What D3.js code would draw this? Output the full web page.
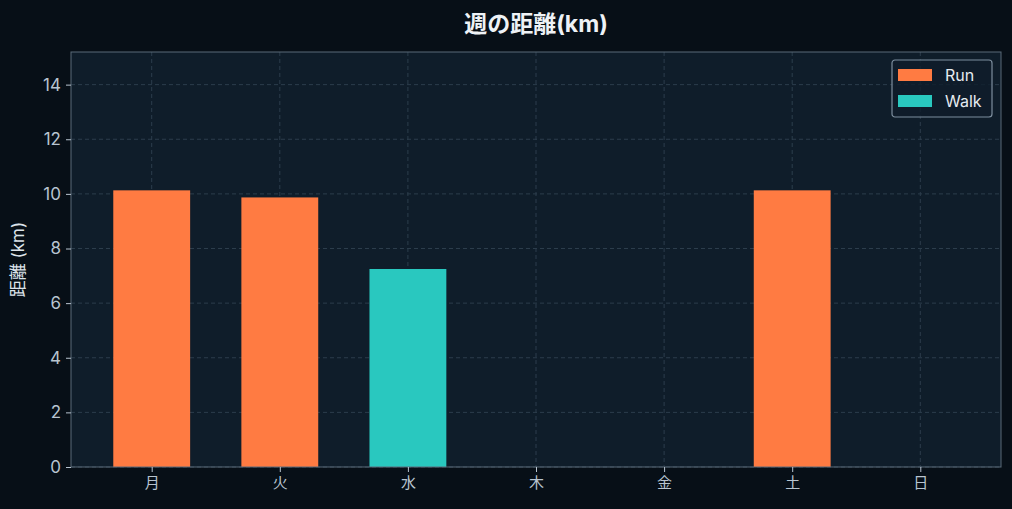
<!DOCTYPE html>
<html>
<head>
<meta charset="utf-8">
<script src="https://cdn.jsdelivr.net/npm/d3@7"></script>
<style>
  html, body { margin: 0; padding: 0; background: #070f17; }
  svg { display: block; font-family: Inter, "Noto Sans CJK JP", sans-serif; }
</style>
</head>
<body>
<svg id="chart" width="1012" height="509"></svg>
<script>
// Données
const days = ["月", "火", "水", "木", "金", "土", "日"];
const distances = [10.13, 9.87, 7.25, 0, 0, 10.13, 0];
const kinds = ["Run", "Run", "Walk", null, null, "Run", null];
const legendKeys = ["Run", "Walk"];
const yTicks = [0, 2, 4, 6, 8, 10, 12, 14];
const colors = { Run: "#ff7b42", Walk: "#29c8bf" };

const W = 1012, H = 509;
const margin = { top: 52, right: 11, bottom: 42, left: 71 };
const innerW = W - margin.left - margin.right;
const innerH = H - margin.top - margin.bottom;
const barWidth = 0.6;

const svg = d3.select("#chart");

const x = d3.scaleLinear()
  .domain([-0.63, days.length - 1 + 0.63])
  .range([0, innerW]);
const y = d3.scaleLinear()
  .domain([0, d3.max(distances) * 1.5])
  .range([innerH, 0]);

svg.append("rect").attr("width", W).attr("height", H).attr("fill", "#070f17");

const g = svg.append("g").attr("transform", `translate(${margin.left},${margin.top})`);

// Fond de la zone de tracé
g.append("rect")
  .attr("width", innerW)
  .attr("height", innerH)
  .attr("fill", "#0f1d2a");

// Grille pointillée
g.append("g")
  .selectAll("line")
  .data(yTicks)
  .join("line")
  .attr("x1", 0).attr("x2", innerW)
  .attr("y1", d => y(d)).attr("y2", d => y(d))
  .attr("stroke", "#2c3d4c")
  .attr("stroke-dasharray", "4,3");

g.append("g")
  .selectAll("line")
  .data(days.map((_, i) => i))
  .join("line")
  .attr("x1", d => x(d)).attr("x2", d => x(d))
  .attr("y1", 0).attr("y2", innerH)
  .attr("stroke", "#2c3d4c")
  .attr("stroke-dasharray", "4,3");

// Barres
g.append("g")
  .selectAll("rect")
  .data(distances.map((v, i) => ({ v, i, kind: kinds[i] })).filter(d => d.v > 0))
  .join("rect")
  .attr("x", d => x(d.i - barWidth / 2))
  .attr("width", d => x(barWidth) - x(0))
  .attr("y", d => y(d.v))
  .attr("height", d => y(0) - y(d.v))
  .attr("fill", d => colors[d.kind]);

// Cadre
g.append("rect")
  .attr("width", innerW)
  .attr("height", innerH)
  .attr("fill", "none")
  .attr("stroke", "#5b6b79")
  .attr("stroke-width", 1);

// Axes
const yAxis = g.append("g")
  .call(d3.axisLeft(y).tickValues(yTicks).tickSize(5).tickPadding(5));
const xAxis = g.append("g")
  .attr("transform", `translate(0,${innerH})`)
  .call(d3.axisBottom(x).tickValues(days.map((_, i) => i)).tickFormat(i => days[i]).tickSize(5).tickPadding(5));

[yAxis, xAxis].forEach(ax => {
  ax.select(".domain").remove();
  ax.selectAll(".tick line").attr("stroke", "#b8c4d0");
  ax.selectAll(".tick text")
    .attr("fill", "#b8c4d0")
    .style("font-size", "17px")
    .style("font-family", "Inter, 'Noto Sans CJK JP', sans-serif");
});
xAxis.selectAll(".tick text").style("font-size", "15px");

// Titre
svg.append("text")
  .attr("x", margin.left + innerW / 2)
  .attr("y", 32)
  .attr("text-anchor", "middle")
  .attr("fill", "#eef2f6")
  .style("font-size", "23px")
  .style("font-weight", "bold")
  .text("週の距離(km)");

// Titre de l'axe Y
svg.append("text")
  .attr("transform", `translate(24,${margin.top + innerH / 2}) rotate(-90)`)
  .attr("text-anchor", "middle")
  .attr("fill", "#dce3ea")
  .style("font-size", "17px")
  .text("距離 (km)");

// Légende
const legend = g.append("g").attr("transform", `translate(${innerW - 109},8)`);
legend.append("rect")
  .attr("width", 100)
  .attr("height", 57)
  .attr("rx", 3)
  .attr("fill", "#0f1d2a")
  .attr("fill-opacity", 0.8)
  .attr("stroke", "#7d8e9e")
  .attr("stroke-width", 1.2);

const item = legend.selectAll("g.item")
  .data(legendKeys)
  .join("g")
  .classed("item", true)
  .attr("transform", (d, i) => `translate(6,${9 + i * 26})`);
item.append("rect")
  .attr("width", 34)
  .attr("height", 12)
  .attr("fill", d => colors[d]);
item.append("text")
  .attr("x", 47)
  .attr("y", 12)
  .attr("fill", "#e6ebf0")
  .style("font-size", "16px")
  .text(d => d);
</script>
</body>
</html>
